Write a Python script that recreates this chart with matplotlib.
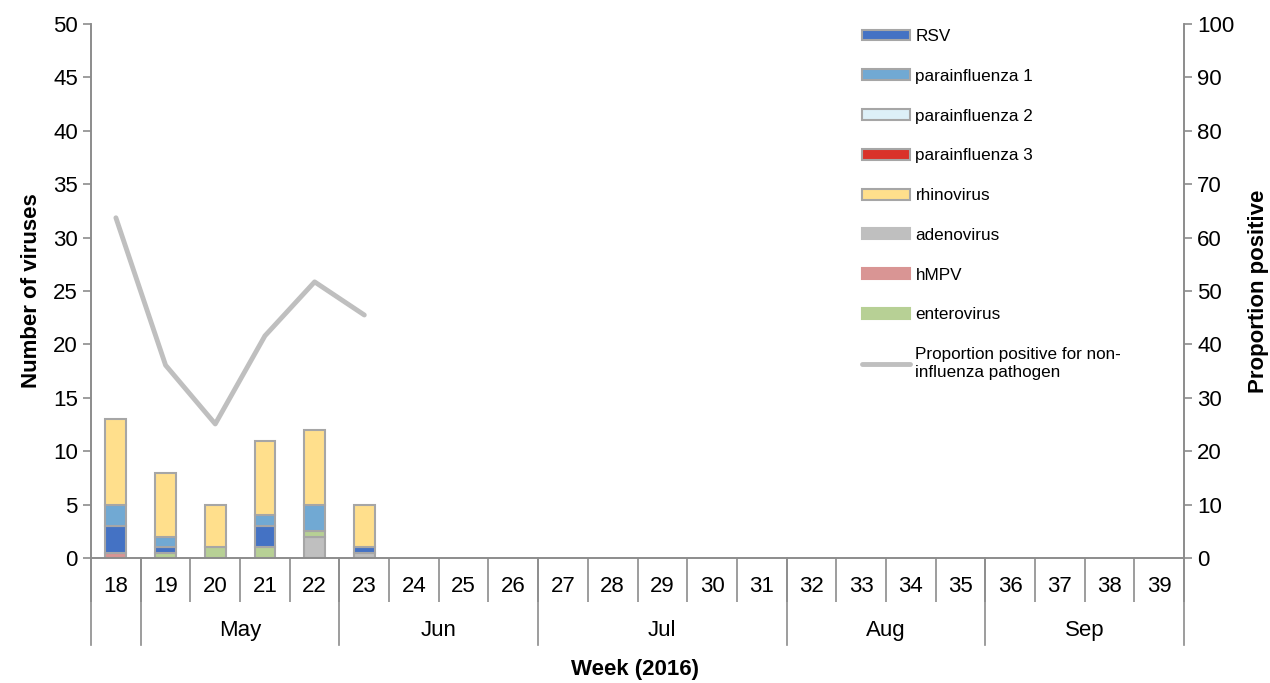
import numpy as np
import matplotlib
matplotlib.use('Agg')
import matplotlib.pyplot as plt
import matplotlib.transforms as mtransforms

plt.rcParams['font.family'] = ['Liberation Sans', 'DejaVu Sans']

# --- Data ---
weeks = list(range(18, 40))
n = len(weeks)

def pad(vals):
    return np.array(vals + [0] * (n - len(vals)), dtype=float)

adenovirus = pad([0, 0, 0, 0, 2, 0.5])
hmpv = pad([0.5, 0, 0, 0, 0, 0])
enterovirus = pad([0, 0.5, 1, 1, 0.5, 0])
rsv = pad([2.5, 0.5, 0, 2, 0, 0.5])
para1 = pad([2, 1, 0, 1, 2.5, 0])
para2 = pad([0, 0, 0, 0, 0, 0])
para3 = pad([0, 0, 0, 0, 0, 0])
rhinovirus = pad([8, 6, 4, 7, 7, 4])
proportion = [63.7, 36.1, 25.1, 41.6, 51.7, 45.5] + [np.nan] * (n - 6)

months = ['', 'May', 'Jun', 'Jul', 'Aug', 'Sep']
month_weeks = [1, 4, 4, 5, 4, 4]   # weeks per month group

# --- Styles ---
series = [
    ('adenovirus', adenovirus, '#bfbfbf', False),
    ('hMPV', hmpv, '#d99594', False),
    ('enterovirus', enterovirus, '#b7d095', False),
    ('RSV', rsv, '#4472c4', True),
    ('parainfluenza 1', para1, '#71a9d3', True),
    ('parainfluenza 2', para2, '#ddf0f8', True),
    ('parainfluenza 3', para3, '#d9322a', True),
    ('rhinovirus', rhinovirus, '#ffdf8c', True),
]
axis_gray = '#8c8c8c'
edge_gray = '#a6a6a6'

fig = plt.figure(figsize=(12.7, 6.83), dpi=100)
ax = fig.add_axes([0.0717, 0.183, 0.8606, 0.782])
ax2 = ax.twinx()

x = np.arange(n)
bottom = np.zeros(n)
handles = {}
for name, vals, color, edged in series:
    keep = vals > 0
    ax.bar(x[keep], vals[keep], bottom=bottom[keep], width=0.42, color=color,
           edgecolor=edge_gray, linewidth=1.5, label=name, zorder=2)
    # legend proxy
    handles[name] = plt.Rectangle((0, 0), 1, 1, facecolor=color,
                                  edgecolor=edge_gray if edged else color, linewidth=1.5)
    bottom += vals

line, = ax2.plot(x, proportion, color='#bfbfbf', linewidth=3.5, solid_capstyle='round')

ax.set_xlim(-0.5, n - 0.5)
ax.set_ylim(0, 50)
ax.set_yticks(range(0, 51, 5))
ax2.set_ylim(0, 100)
ax2.set_yticks(range(0, 101, 10))

for a in (ax, ax2):
    for s in a.spines.values():
        s.set_color(axis_gray)
        s.set_linewidth(1.2)
    a.spines['top'].set_visible(False)
    a.tick_params(axis='y', labelsize=16, color=axis_gray, length=6, width=1.2, direction='out')

ax.set_xticks(x)
ax.set_xticklabels([str(w) for w in weeks], fontsize=16)
ax.tick_params(axis='x', length=0, pad=13)
ax.set_xticks(np.arange(-0.5, n, 1), minor=True)
ax.tick_params(axis='x', which='minor', length=32, width=1.2, color=axis_gray)

# month separators and labels
trans = mtransforms.blended_transform_factory(ax.transData, ax.transAxes)
edges = np.concatenate([[0], np.cumsum(month_weeks)]) - 0.5
for e in edges:
    ax.plot([e, e], [0, -0.162], transform=trans, color=axis_gray, linewidth=1.2, clip_on=False)
for i, m in enumerate(months):
    ax.text((edges[i] + edges[i + 1]) / 2, -0.135, m, transform=trans,
            ha='center', va='center', fontsize=16)

ax.set_ylabel('Number of viruses', fontsize=16, fontweight='bold', labelpad=8)
ax2.set_ylabel('Proportion positive', fontsize=16, fontweight='bold', labelpad=10)
fig.text(0.5, 0.02, 'Week (2016)', ha='center', va='center', fontsize=16, fontweight='bold')

order = ['RSV', 'parainfluenza 1', 'parainfluenza 2', 'parainfluenza 3',
         'rhinovirus', 'adenovirus', 'hMPV', 'enterovirus']
leg_handles = [handles[k] for k in order] + [line]
leg_labels = order + ['Proportion positive for non-\ninfluenza pathogen']
ax2.legend(leg_handles, leg_labels, loc='upper left',
           bbox_to_anchor=(0.667, 0.98), bbox_transform=fig.transFigure,
           frameon=False, fontsize=12.3, handlelength=2.8, handleheight=0.6,
           labelspacing=1.45, handletextpad=0.3)

fig.savefig('out.png', dpi=100)
